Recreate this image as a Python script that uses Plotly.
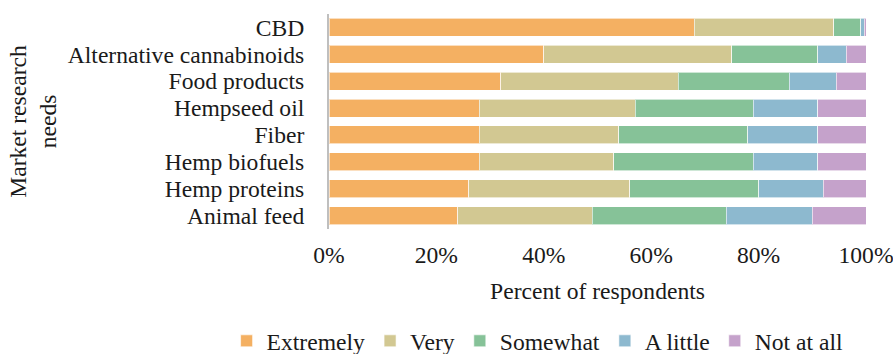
import plotly.graph_objects as go

categories = ["CBD", "Alternative cannabinoids", "Food products", "Hempseed oil",
              "Fiber", "Hemp biofuels", "Hemp proteins", "Animal feed"]
extremely = [68, 40, 32, 28, 28, 28, 26, 24]
very = [26, 35, 33, 29, 26, 25, 30, 25]
somewhat = [5, 16, 20.7, 22, 24, 26, 24, 25]
a_little = [0.7, 5.3, 8.8, 12, 13, 12, 12, 16]
not_at_all = [0.3, 3.7, 5.5, 9, 9, 9, 8, 10]

series_names = ["Extremely", "Very", "Somewhat", "A little", "Not at all"]
series_values = [extremely, very, somewhat, a_little, not_at_all]
colors = ["#F4B062", "#D2C892", "#86C298", "#8DB9CF", "#C5A2CB"]

FONT = "Liberation Serif"
FS = 23.6

fig = go.Figure()
for name, vals, col in zip(series_names, series_values, colors):
    fig.add_trace(go.Bar(
        y=categories, x=vals, name=name, orientation="h",
        marker=dict(color=col, line=dict(color="rgba(255,255,255,0.6)", width=1)),
    ))

fig.update_layout(
    barmode="stack",
    bargap=0.33,
    width=893, height=354,
    margin=dict(l=328.5, r=27, t=13.5, b=124.5, autoexpand=False),
    paper_bgcolor="white", plot_bgcolor="white",
    font=dict(family=FONT, size=FS, color="#1a1a1a"),
    legend=dict(
        orientation="h", xref="paper", yref="paper",
        x=(226 - 328.5) / 537.5, xanchor="left", y=-(342 - 229.5) / 216, yanchor="middle",
        font=dict(family=FONT, size=FS, color="#1a1a1a"),
        traceorder="normal", itemwidth=30,
    ),
    xaxis=dict(
        range=[0, 100], tickvals=[0, 20, 40, 60, 80, 100],
        ticktext=["0%", "20%", "40%", "60%", "80%", "100%"],
        showgrid=False, zeroline=False, showline=False, ticks="",
        ticklabelstandoff=9, automargin=False, ticklabeloverflow="allow",
        title=dict(text="Percent of respondents", standoff=15,
                   font=dict(family=FONT, size=FS, color="#1a1a1a")),
    ),
    yaxis=dict(
        autorange="reversed", showgrid=False, zeroline=False,
        tickmode="array", tickvals=categories, ticktext=categories,
        showline=True, linecolor="#BFBFBF", linewidth=2, ticks="",
        ticklabelstandoff=18, automargin=False,
        title=dict(text="Market research<br>needs", standoff=4,
                   font=dict(family=FONT, size=FS, color="#1a1a1a")),
    ),
)

fig.write_html("out.html")
